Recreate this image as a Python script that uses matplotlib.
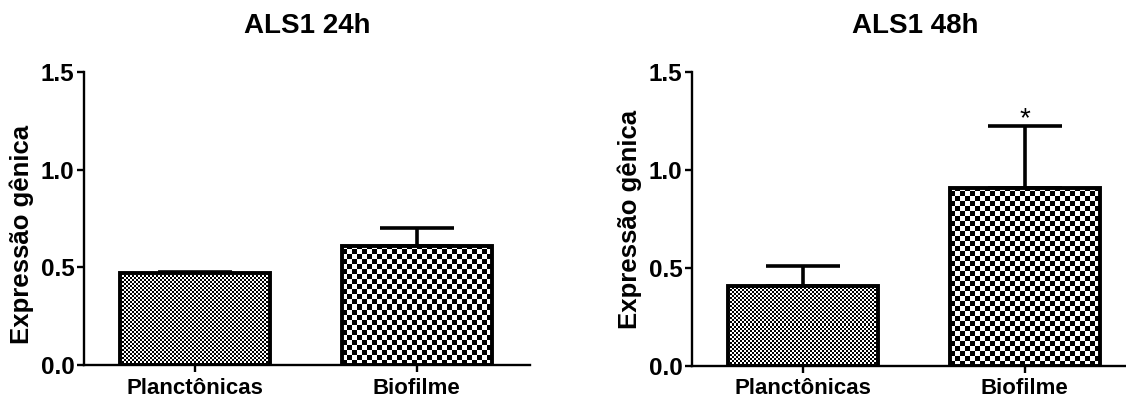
import numpy as np
import matplotlib
matplotlib.use("Agg")
import matplotlib.pyplot as plt

plt.rcParams['font.family'] = ['Liberation Sans', 'DejaVu Sans']
plt.rcParams['font.weight'] = 'bold'

# ---- data ----
categories = ["Planctônicas", "Biofilme"]
titles = ["ALS1 24h", "ALS1 48h"]
means_24h = [0.47, 0.61]
errs_24h = [0.004, 0.09]
means_48h = [0.41, 0.908]
errs_48h = [0.10, 0.316]
signif_48h = ["", "*"]
yticks = [0.0, 0.5, 1.0, 1.5]
ytick_labels = ["0.0", "0.5", "1.0", "1.5"]
ylabel = "Expressão gênica"

W, H = 1126, 399
fig = plt.figure(figsize=(W / 100, H / 100), dpi=100)

def px_axes(x0, x1, ytop, ybot):
    return [x0 / W, (H - ybot) / H, (x1 - x0) / W, (ybot - ytop) / H]

ax1 = fig.add_axes(px_axes(84, 530, 72, 365))
ax2 = fig.add_axes(px_axes(692, 1138, 72, 366))

checker_sizes = [2, 5]


def checker_fill(ax, patch, sq):
    bb = patch.get_window_extent()
    wpx = max(int(round(bb.width)), 1)
    hpx = max(int(round(bb.height)), 1)
    j, i = np.meshgrid(np.arange(wpx), np.arange(hpx))
    arr = (((i // sq) + (j // sq)) % 2).astype(float)
    x0 = patch.get_x()
    x1 = x0 + patch.get_width()
    y0 = patch.get_y()
    y1 = y0 + patch.get_height()
    im = ax.imshow(arr, extent=(x0, x1, y0, y1), cmap='gray', vmin=0, vmax=1,
                   interpolation='nearest', aspect='auto', zorder=2,
                   origin='lower')
    im.set_clip_path(patch)


def draw_panel(ax, means, errs, title, marks=None, ylab_y=0.5):
    x = np.arange(len(categories))
    ax.set_xlim(-0.5, 1.51)
    ax.set_ylim(0, 1.5)
    bars = ax.bar(x, means, width=0.676, facecolor='white', edgecolor='none', zorder=1)
    for b, sq in zip(bars, checker_sizes):
        checker_fill(ax, b, sq)
    ax.bar(x, means, width=0.676, facecolor='none', edgecolor='black',
           linewidth=2.8, zorder=4)
    ax.errorbar(x, means, yerr=[np.zeros(len(errs)), errs], fmt='none',
                ecolor='black', elinewidth=2.6, capsize=26.5, capthick=2.6,
                zorder=0)
    ax.set_xlim(-0.5, 1.51)
    ax.set_ylim(0, 1.5)
    for s in ['top', 'right']:
        ax.spines[s].set_visible(False)
    for s in ['left', 'bottom']:
        ax.spines[s].set_linewidth(1.7)
    ax.set_yticks(yticks)
    ax.set_yticklabels(ytick_labels)
    ax.set_xticks(x)
    ax.set_xticklabels(categories)
    ax.tick_params(axis='both', direction='out', length=5, width=1.7,
                   labelsize=17.5, pad=2)
    ax.tick_params(axis='x', pad=4, labelsize=16)
    for lab in ax.get_xticklabels() + ax.get_yticklabels():
        lab.set_fontweight('bold')
    ax.text(0.5, 1.0 + (72 - 26) / 293, title, transform=ax.transAxes,
            ha='center', va='center', fontsize=20, fontweight='bold')
    ax.text(-0.139, ylab_y, ylabel, transform=ax.transAxes, rotation=90,
            ha='center', va='center', fontsize=18.5, fontweight='bold')
    if marks:
        for xi, m, e, mk in zip(x, means, errs, marks):
            if mk:
                ax.annotate(mk, (xi, m + e), xytext=(0, -4.5),
                            textcoords='offset points', ha='center',
                            va='bottom', fontsize=20, fontweight='normal')


draw_panel(ax1, means_24h, errs_24h, titles[0], ylab_y=0.444)
draw_panel(ax2, means_48h, errs_48h, titles[1], marks=signif_48h, ylab_y=0.50)

fig.savefig("out.png", dpi=100)
